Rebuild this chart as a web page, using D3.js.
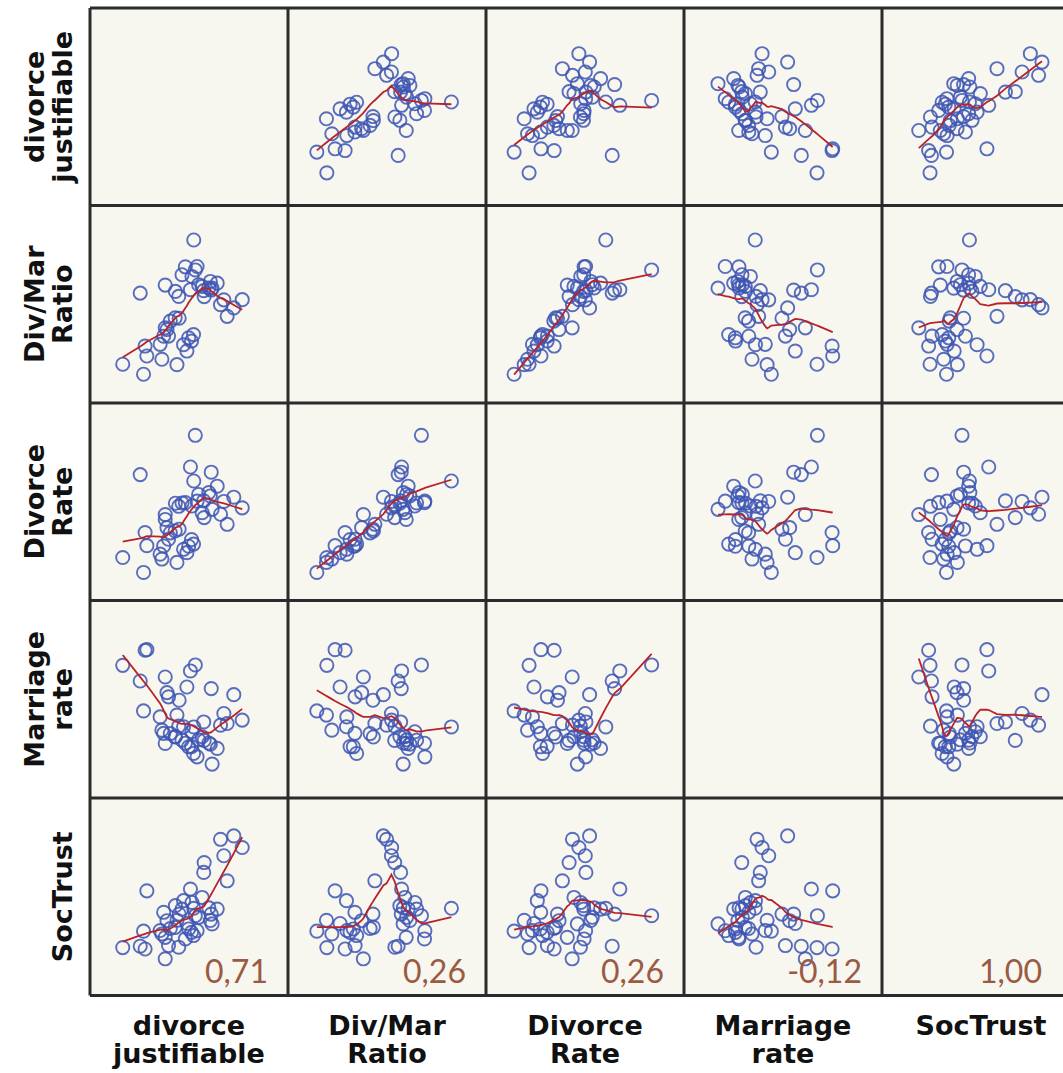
<!DOCTYPE html>
<html><head><meta charset="utf-8">
<script src="https://cdn.jsdelivr.net/npm/d3@7"></script>
<style>body{margin:0;background:#fff}</style>
</head><body>
<svg id="chart" width="1063" height="1073"></svg>
<script>
// ---- data (one entry per country) ----
const variableNames = ["divorce justifiable","Div/Mar Ratio","Divorce Rate","Marriage rate","SocTrust"];
const labelLines = [["divorce","justifiable"],["Div/Mar","Ratio"],["Divorce","Rate"],["Marriage","rate"],["SocTrust"]];
const divorceJustifiable = [5.41,5.56,5.03,5.48,4.88,5.33,6.47,5.63,4.12,5.79,6.24,5.26,6.20,5.86,2.99,4.73,5.88,7.60,6.77,6.62,7.22,6.92,4.57,4.75,4.12,4.20,5.40,4.27,4.05,5.18,5.31,3.89,4.95,3.21,5.10,3.29,3.97,2.20,4.65,3.14,6.16,4.58,4.35,6.09];
const divMarRatio = [0.750,0.612,0.610,0.594,0.569,0.560,0.525,0.517,0.515,0.508,0.499,0.491,0.489,0.486,0.473,0.456,0.455,0.439,0.438,0.413,0.396,0.352,0.344,0.342,0.292,0.283,0.257,0.249,0.248,0.240,0.223,0.206,0.204,0.197,0.171,0.145,0.128,0.102,0.100,0.050,0.534,0.482,0.327,0.500];
const divorceRate = [3.30,2.64,2.59,4.80,2.58,2.48,3.13,2.86,2.04,2.26,2.37,3.76,3.59,2.65,3.51,2.47,2.10,2.42,2.63,2.21,2.77,1.88,1.66,1.72,2.20,1.77,1.23,1.39,1.17,1.16,1.38,0.90,1.06,1.61,0.95,1.18,0.74,0.79,0.63,0.30,2.81,2.57,1.60,2.92];
const marriageRate = [5.65,4.16,4.84,8.74,4.99,5.41,4.58,5.01,4.83,5.16,3.80,8.44,7.56,5.90,7.94,5.69,4.98,5.99,6.32,5.74,7.26,5.82,5.15,6.98,8.14,7.36,4.33,7.15,5.33,4.66,4.67,6.15,5.66,9.47,7.64,9.50,5.49,8.72,6.24,6.45,4.79,5.17,5.32,4.85];
const socTrust = [29.9,18.7,14.6,26.2,29.5,32.8,29.5,25.4,15.4,35.3,22.1,39.5,27.0,47.8,11.0,10.5,52.7,60.2,56.1,64.3,66.0,43.6,20.4,27.0,4.7,23.7,16.3,11.3,27.9,19.6,17.9,18.8,33.7,9.6,22.3,38.6,17.1,10.3,23.9,18.5,23.8,31.2,19.8,30.1];
const correlationLabels = ["0,71","0,26","0,26","-0,12","1,00"];
const axisDomains = [[0.72,9.67],[-0.10,0.93],[-0.62,5.86],[2.11,11.95],[-13.6,84.9]];

const series = [divorceJustifiable, divMarRatio, divorceRate, marriageRate, socTrust];
const nVar = series.length;
const nObs = socTrust.length;

// ---- layout ----
const W = 1063, H = 1073;
const gridLeft = 90, gridTop = 8, cellW = 198, cellH = 197.5;
const svg = d3.select("#chart");

function loess(xs, ys, frac){
  const n = xs.length;
  const q = Math.max(3, Math.round(frac*n));
  const ux = Array.from(new Set(xs)).sort((a,b)=>a-b);
  return ux.map(x0=>{
    const dists = xs.map(x=>Math.abs(x-x0));
    const h = (d3.sort(dists)[q-1] || 1e-9) * 1.0001;
    let sw=0,sx=0,sy=0,sxx=0,sxy=0;
    for(let i=0;i<n;i++){
      const u = dists[i]/h; if(u>=1) continue;
      const w = Math.pow(1-u*u*u,3);
      sw+=w; sx+=w*xs[i]; sy+=w*ys[i]; sxx+=w*xs[i]*xs[i]; sxy+=w*xs[i]*ys[i];
    }
    const mx=sx/sw, my=sy/sw, vx=sxx/sw-mx*mx;
    const b = vx>1e-12 ? (sxy/sw-mx*my)/vx : 0;
    return [x0, my + b*(x0-mx)];
  });
}

const g = svg.append("g");
for(let i=0;i<nVar;i++){
  for(let j=0;j<nVar;j++){
    const x0 = gridLeft + j*cellW, y0 = gridTop + i*cellH;
    const cell = g.append("g");
    cell.append("rect").attr("x",x0).attr("y",y0).attr("width",cellW).attr("height",cellH)
      .attr("fill","#f8f7ef");
    if(i===j) continue;
    const xs = d3.scaleLinear().domain(axisDomains[j]).range([x0, x0+cellW]);
    const ys = d3.scaleLinear().domain(axisDomains[i]).range([y0+cellH, y0]);
    const xv = series[j], yv = series[i];
    cell.selectAll("circle").data(d3.range(nObs)).join("circle")
      .attr("cx",k=>xs(xv[k])).attr("cy",k=>ys(yv[k])).attr("r",6.6)
      .attr("fill","none").attr("stroke","#3d55b4").attr("stroke-width",1.9).attr("stroke-opacity",0.85);
    const fit = loess(xv, yv, 0.5);
    cell.append("path").attr("d", d3.line().x(d=>xs(d[0])).y(d=>ys(d[1]))(fit))
      .attr("fill","none").attr("stroke","#b8232a").attr("stroke-width",1.8);
  }
}
// grid borders
for(let k=0;k<=nVar;k++){
  g.append("line").attr("x1",gridLeft+k*cellW).attr("x2",gridLeft+k*cellW).attr("y1",gridTop).attr("y2",gridTop+nVar*cellH)
    .attr("stroke","#2b2b2b").attr("stroke-width",3);
  g.append("line").attr("x1",gridLeft).attr("x2",gridLeft+nVar*cellW).attr("y1",gridTop+k*cellH).attr("y2",gridTop+k*cellH)
    .attr("stroke","#2b2b2b").attr("stroke-width",3);
}
// correlation labels in bottom row
correlationLabels.forEach((t,j)=>{
  const xr = Math.min(gridLeft + j*cellW + 178, W - 21);
  svg.append("text").attr("x",xr).attr("y",gridTop+nVar*cellH-13).attr("text-anchor","end")
    .attr("font-family","Lato, 'Open Sans', sans-serif").attr("font-size",32).attr("fill","#9a5a44").text(t);
});
// column labels
labelLines.forEach((lines,j)=>{
  const cx = gridLeft + j*cellW + cellW/2;
  lines.forEach((ln,l)=>{
    svg.append("text").attr("x",cx).attr("y",1035+l*28).attr("text-anchor","middle")
      .attr("font-family","'DejaVu Sans', Verdana, sans-serif").attr("font-weight","bold").attr("font-size",27)
      .attr("fill","#111").text(ln);
  });
});
// row labels
labelLines.forEach((lines,i)=>{
  const cy = gridTop + i*cellH + cellH/2;
  const xp = lines.length===2 ? [44,72] : [72];
  lines.forEach((ln,l)=>{
    svg.append("text").attr("transform",`translate(${xp[l]},${cy}) rotate(-90)`).attr("text-anchor","middle")
      .attr("font-family","'DejaVu Sans', Verdana, sans-serif").attr("font-weight","bold").attr("font-size",27)
      .attr("fill","#111").text(ln);
  });
});
</script>
</body></html>
